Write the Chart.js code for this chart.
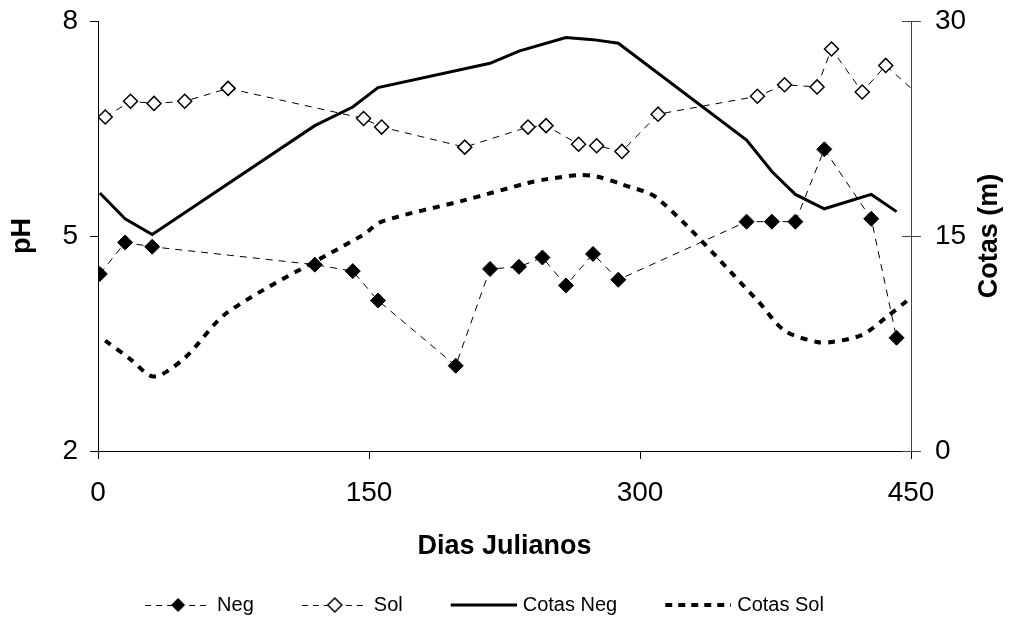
<!DOCTYPE html>
<html>
<head>
<meta charset="utf-8">
<script src="https://cdn.jsdelivr.net/npm/chart.js@4.4.1/dist/chart.umd.min.js"></script>
<style>
  html, body { margin: 0; padding: 0; background: #fff; }
  #wrap { width: 1021px; height: 639px; }
</style>
</head>
<body>
<div id="wrap"><canvas id="c" width="1021" height="639"></canvas></div>
<script>
// ---- Data ----
const negDays = [1, 15, 30, 120, 141, 155, 198, 217, 233, 246, 259, 274, 288, 359, 373, 386, 402, 428, 442];
const negPH   = [4.47, 4.91, 4.85, 4.60, 4.51, 4.10, 3.19, 4.54, 4.57, 4.70, 4.31, 4.75, 4.39, 5.20, 5.20, 5.20, 6.21, 5.24, 3.58];

const solDays = [4, 18, 31, 48, 72, 147, 157, 203, 238, 248, 266, 276, 290, 310, 365, 380, 398, 406, 423, 436, 455];
const solPH   = [6.66, 6.88, 6.85, 6.88, 7.06, 6.64, 6.52, 6.24, 6.52, 6.54, 6.28, 6.26, 6.18, 6.70, 6.95, 7.11, 7.08, 7.61, 7.01, 7.38, 6.95];

const cotasNegDays = [1, 15, 30, 120, 141, 155, 217, 233, 259, 274, 288, 359, 373, 386, 402, 428, 442];
const cotasNeg     = [18.0, 16.2, 15.1, 22.7, 24.0, 25.35, 27.05, 27.9, 28.85, 28.7, 28.45, 21.7, 19.5, 17.9, 16.9, 17.9, 16.7];

const cotasSolDays = [4, 18, 31, 48, 72, 147, 157, 203, 238, 248, 266, 276, 290, 310, 365, 380, 398, 406, 423, 436, 448];
const cotasSol     = [7.7, 6.4, 5.2, 6.5, 9.7, 15.1, 16.0, 17.5, 18.7, 18.95, 19.25, 19.15, 18.6, 17.6, 10.5, 8.4, 7.6, 7.6, 8.1, 9.3, 10.5];

const xTicks  = [0, 150, 300, 450];
const phTicks = [2, 5, 8];
const cotaTicks = [0, 15, 30];

const seriesNames = ['Neg', 'Sol', 'Cotas Neg', 'Cotas Sol'];

// ---- helpers ----
const pts = (xs, ys) => xs.map((x, i) => ({ x: x, y: ys[i] }));
const FONT = "'Liberation Sans', Arial, sans-serif";
const PAD_BOTTOM = 14;
const LEGEND_SHIFT = -45;

// legend swatch: canvas 108 wide, swatch drawn in the right 66 px
function swatch(kind) {
  const c = document.createElement('canvas');
  c.width = 108; c.height = 20;
  const g = c.getContext('2d');
  const x0 = 42, x1 = 108, xc = (x0 + x1) / 2;
  g.strokeStyle = '#000';
  g.beginPath();
  if (kind === 'neg' || kind === 'sol') {
    g.lineWidth = 1; g.setLineDash([6, 5]);
    g.moveTo(x0, 10.5); g.lineTo(x1, 10.5); g.stroke();
    g.setLineDash([]);
    g.beginPath();
    g.moveTo(xc, 3); g.lineTo(xc + 7, 10); g.lineTo(xc, 17); g.lineTo(xc - 7, 10); g.closePath();
    if (kind === 'neg') { g.fillStyle = '#000'; g.fill(); }
    else { g.fillStyle = '#fff'; g.fill(); g.lineWidth = 1.5; g.stroke(); }
  } else if (kind === 'cneg') {
    g.lineWidth = 3; g.moveTo(x0, 10); g.lineTo(x1, 10); g.stroke();
  } else {
    g.lineWidth = 4; g.setLineDash([7, 6]); g.moveTo(x0, 10); g.lineTo(x1, 10); g.stroke();
  }
  return c;
}
const swatches = [swatch('neg'), swatch('sol'), swatch('cneg'), swatch('csol')];

const extras = {
  id: 'extras',
  afterLayout(chart) {
    if (chart.legend) { chart.legend.left += LEGEND_SHIFT; chart.legend.right += LEGEND_SHIFT; }
  },
  afterDraw(chart) {
    const s = chart.scales.y2;
    const ctx = chart.ctx;
    // inner half of the crossing tick marks on the right axis
    ctx.save();
    ctx.strokeStyle = '#444';
    ctx.lineWidth = 1;
    ctx.beginPath();
    cotaTicks.forEach(v => {
      const y = Math.round(s.getPixelForValue(v)) + 0.5;
      ctx.moveTo(s.left - 9, y); ctx.lineTo(s.left, y);
    });
    ctx.stroke();
    ctx.restore();
    // right axis title reading bottom-to-top
    ctx.save();
    ctx.translate(s.right - 31, (s.top + s.bottom) / 2);
    ctx.rotate(-Math.PI / 2);
    ctx.font = "bold 27px " + FONT;
    ctx.fillStyle = '#000';
    ctx.textAlign = 'center';
    ctx.textBaseline = 'middle';
    ctx.fillText('Cotas (m)', 0, 0);
    ctx.restore();
  }
};

const commonGrid = { drawOnChartArea: false, tickLength: 8, color: '#000', lineWidth: 1 };
const noPad = s => { s.paddingTop = 0; s.paddingBottom = 0; };

new Chart(document.getElementById('c'), {
  type: 'line',
  data: {
    datasets: [
      {
        label: seriesNames[0], data: pts(negDays, negPH), yAxisID: 'y',
        borderColor: '#000', borderWidth: 1, borderDash: [7, 6], tension: 0,
        pointStyle: 'rectRot', pointRadius: 7.5, pointBackgroundColor: '#000', pointBorderColor: '#000', pointBorderWidth: 1
      },
      {
        label: seriesNames[1], data: pts(solDays, solPH), yAxisID: 'y',
        borderColor: '#000', borderWidth: 1, borderDash: [7, 6], tension: 0,
        pointStyle: 'rectRot', pointRadius: 7, pointBackgroundColor: '#fff', pointBorderColor: '#000', pointBorderWidth: 1.5
      },
      {
        label: seriesNames[2], data: pts(cotasNegDays, cotasNeg), yAxisID: 'y2',
        borderColor: '#000', borderWidth: 3, tension: 0, pointRadius: 0
      },
      {
        label: seriesNames[3], data: pts(cotasSolDays, cotasSol), yAxisID: 'y2',
        borderColor: '#000', borderWidth: 4, borderDash: [7, 7], tension: 0.3, pointRadius: 0
      }
    ]
  },
  options: {
    responsive: false,
    animation: false,
    events: [],
    layout: { padding: { left: 0, right: 0, top: 21, bottom: PAD_BOTTOM } },
    scales: {
      x: {
        type: 'linear', min: 0, max: 450,
        afterBuildTicks: s => { s.ticks = xTicks.map(v => ({ value: v })); },
        ticks: { font: { family: FONT, size: 28 }, color: '#000', padding: 17 },
        grid: commonGrid,
        border: { color: '#000', width: 1 },
        title: { display: true, text: 'Dias Julianos', color: '#000', font: { family: FONT, size: 27, weight: 'bold' }, padding: { top: 0, bottom: 22 } },
        afterFit: s => { s.height = 639 - 451 - s.chart.legend.height - PAD_BOTTOM; }
      },
      y: {
        position: 'left', min: 2, max: 8,
        afterBuildTicks: s => { s.ticks = phTicks.map(v => ({ value: v })); },
        ticks: { font: { family: FONT, size: 28 }, color: '#000', padding: 12 },
        grid: commonGrid,
        border: { color: '#000', width: 1 },
        title: { display: true, text: 'pH', color: '#000', font: { family: FONT, size: 27, weight: 'bold' }, padding: { top: 6, bottom: 0 } },
        afterFit: s => { s.width = 98; noPad(s); }
      },
      y2: {
        position: 'right', min: 0, max: 30,
        afterBuildTicks: s => { s.ticks = cotaTicks.map(v => ({ value: v })); },
        ticks: { font: { family: FONT, size: 28 }, color: '#000', padding: 14 },
        grid: { drawOnChartArea: false, tickLength: 10, color: '#444', lineWidth: 1 },
        border: { color: '#444', width: 1 },
        afterFit: s => { s.width = 110; noPad(s); }
      }
    },
    plugins: {
      tooltip: { enabled: false },
      legend: {
        position: 'bottom',
        labels: {
          usePointStyle: true,
          pointStyleWidth: 100,
          font: { family: FONT, size: 20 },
          color: '#000',
          padding: 10,
          generateLabels: chart => chart.data.datasets.map((d, i) => ({
            text: d.label, pointStyle: swatches[i], fillStyle: '#000', strokeStyle: '#000',
            lineWidth: 0, hidden: false, datasetIndex: i, fontColor: '#000'
          }))
        }
      }
    }
  },
  plugins: [extras]
});
</script>
</body>
</html>
